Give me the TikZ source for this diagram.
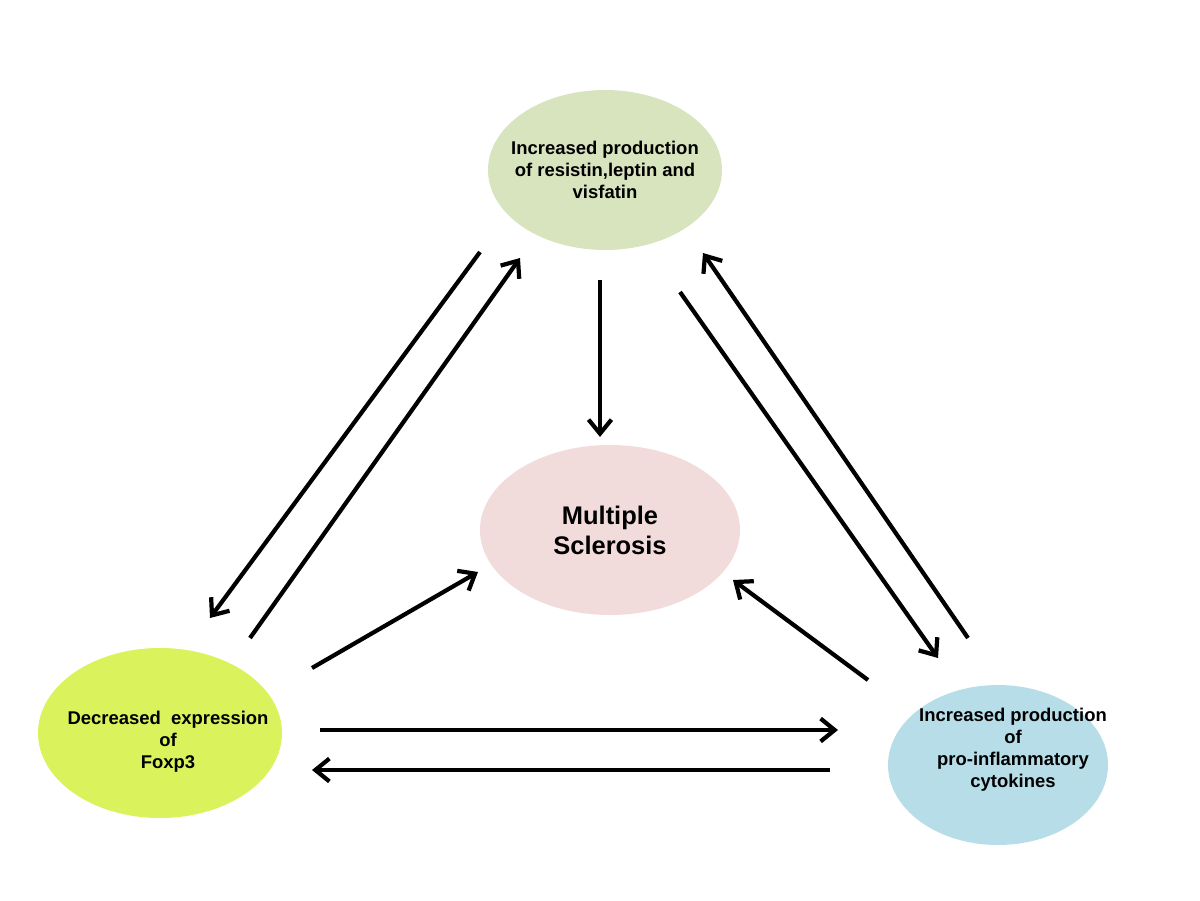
\documentclass[tikz,border=0pt]{standalone}
\usepackage{fontspec}
\setmainfont{Liberation Sans}
\usetikzlibrary{arrows.meta,shapes.geometric}
\definecolor{cgreen}{HTML}{D7E4BD}
\definecolor{cpink}{HTML}{F2DCDB}
\definecolor{cyel}{HTML}{DAF25C}
\definecolor{cblue}{HTML}{B7DEE8}
\begin{document}
\begin{tikzpicture}[x=0.02cm,y=-0.02cm,
  ell/.style={draw=none,align=center,font=\bfseries\fontsize{10.5}{12.5}\selectfont},
  arr/.style={line width=2.4pt,-{Straight Barb[length=8pt,width=13pt,line width=2.4pt]}}]
\useasboundingbox (0,0) rectangle (1200,900);
\fill[cgreen] (605,170) ellipse [x radius=117, y radius=80];
\fill[cpink] (610,530) ellipse [x radius=130, y radius=85];
\fill[cyel] (160,733) ellipse [x radius=122, y radius=85];
\fill[cblue] (998,765) ellipse [x radius=110, y radius=80];
\node[ell] (top) at (605,170) {Increased production\\of resistin,leptin and\\visfatin};
\node[ell,font=\bfseries\fontsize{14.5}{17}\selectfont] (ms) at (610,530) {Multiple\\Sclerosis};
\node[ell] (left) at (168,742) {Decreased\ \ expression\\of\\Foxp3};
\node[ell] (right) at (1013,750) {Increased production\\of\\pro-inflammatory\\cytokines};
\coordinate (a1) at (480,252); \coordinate (a2) at (210,618);
\coordinate (b1) at (250,638); \coordinate (b2) at (520,258);
\coordinate (c1) at (600,280); \coordinate (c2) at (600,437);
\coordinate (d1) at (680,292); \coordinate (d2) at (938,658);
\coordinate (e1) at (968,638); \coordinate (e2) at (703,253);
\coordinate (f1) at (312,668); \coordinate (f2) at (478,572);
\coordinate (g1) at (868,680); \coordinate (g2) at (733,580);
\coordinate (h1) at (320,730); \coordinate (h2) at (838,730);
\coordinate (i1) at (830,770); \coordinate (i2) at (312,770);
\foreach \s/\t in {a1/a2,b1/b2,c1/c2,d1/d2,e1/e2,f1/f2,g1/g2,h1/h2,i1/i2}
  \draw[arr] (\s) -- (\t);
\end{tikzpicture}
\end{document}
